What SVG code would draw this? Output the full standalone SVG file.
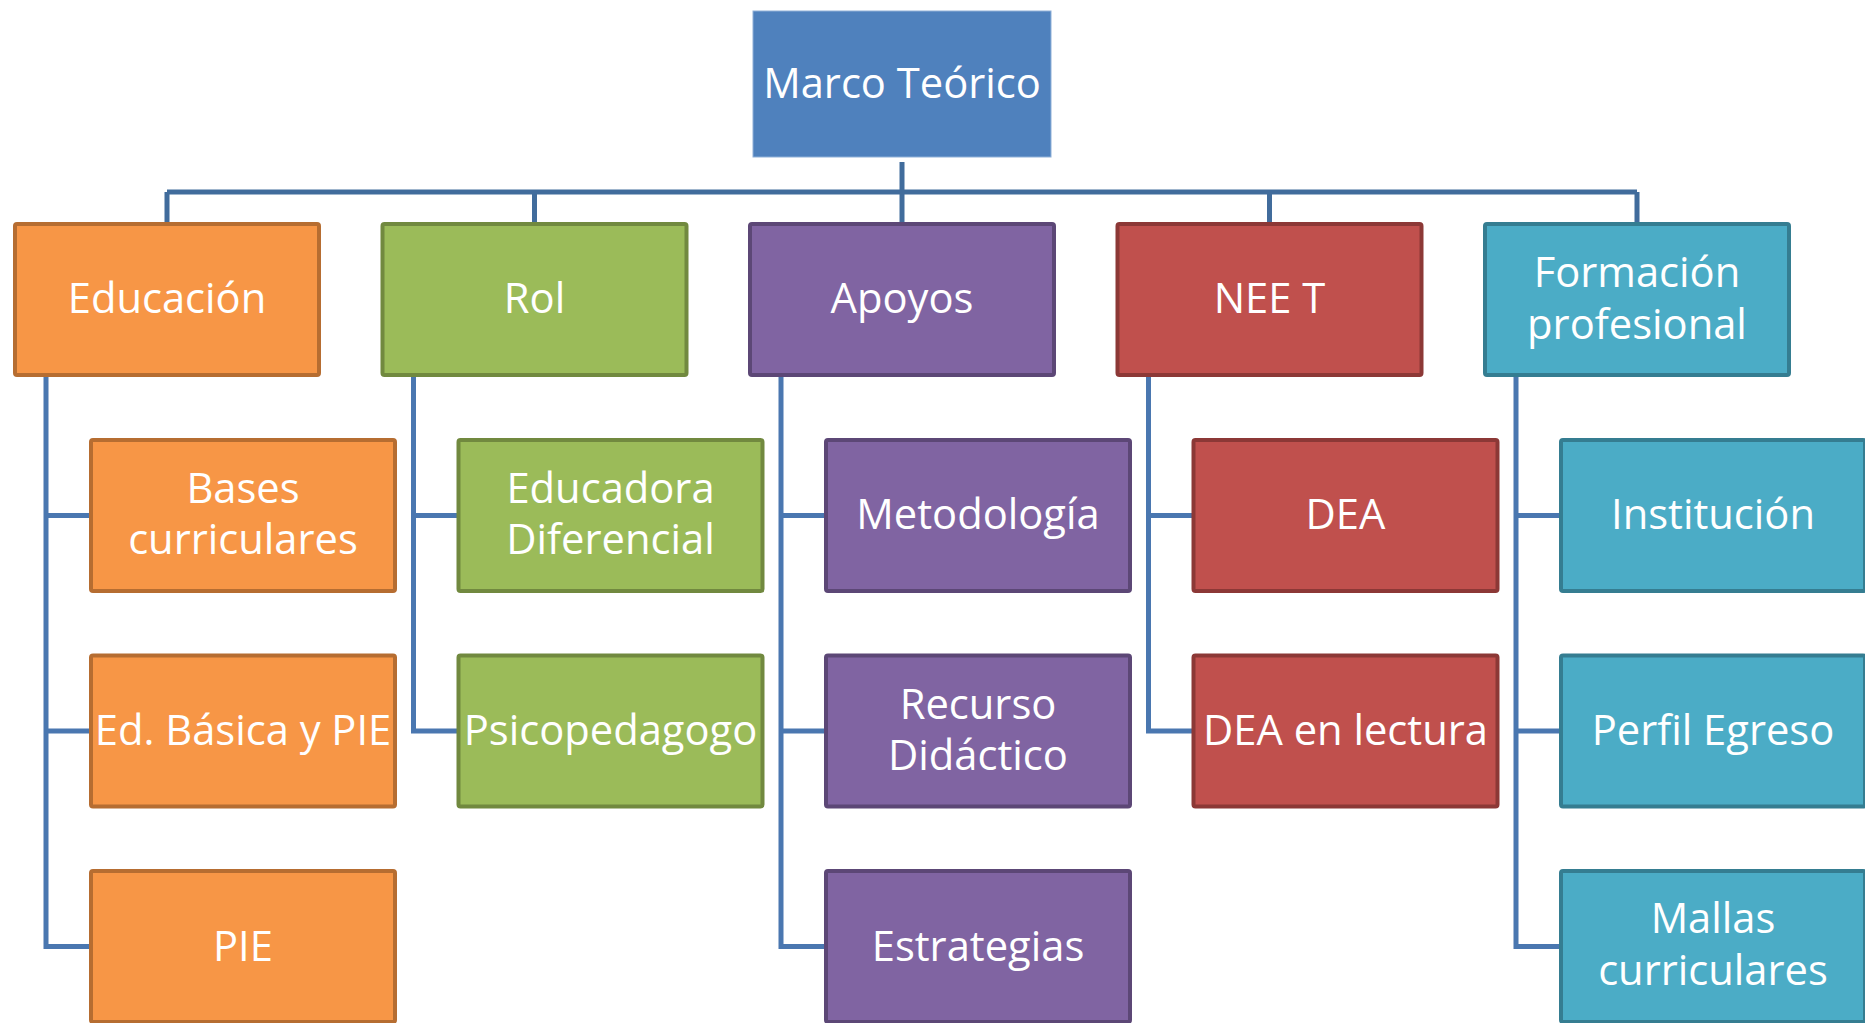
<svg xmlns="http://www.w3.org/2000/svg" width="1865" height="1023" viewBox="0 0 1865 1023">
<style>
.box{stroke-width:4}
.t{font-family:"Open Sans","Noto Sans",sans-serif;font-size:41.7px;fill:#ffffff;text-anchor:middle}
.or{fill:#f79646;stroke:#b66d31}
.gr{fill:#9bbb59;stroke:#71893f}
.pu{fill:#8064a2;stroke:#5c4776}
.re{fill:#c0504d;stroke:#8c3836}
.te{fill:#4bacc6;stroke:#357d91}
.c{fill:none;stroke:#4a77b0;stroke-width:5}
.ct{fill:none;stroke:#416c9c;stroke-width:5}
</style>
<rect width="1865" height="1023" fill="#ffffff"/>
<g id="connectors">
<path class="ct" d="M902 162V192M167 192H1637M167 192V222M534.5 192V222M902 192V222M1269.5 192V222M1637 192V222"/>
<path class="c" d="M46 377V946.5H91M46 515.5H91M46 731H91"/>
<path class="c" d="M413.5 377V731H458.5M413.5 515.5H458.5"/>
<path class="c" d="M781 377V946.5H826M781 515.5H826M781 731H826"/>
<path class="c" d="M1148.5 377V731H1193.5M1148.5 515.5H1193.5"/>
<path class="c" d="M1516 377V946.5H1561M1516 515.5H1561M1516 731H1561"/>
</g>
<g id="root"><rect x="753" y="11" width="298" height="146" fill="#4f81bd" stroke="#8fb0d8" stroke-width="1"/><text class="t" x="902" y="98">Marco Teórico</text></g>
<g id="educacion"><rect class="box or" x="15" y="224" width="304" height="151" rx="2"/><text class="t" x="167" y="313">Educación</text></g>
<g id="rol"><rect class="box gr" x="382.5" y="224" width="304" height="151" rx="2"/><text class="t" x="534.5" y="313">Rol</text></g>
<g id="apoyos"><rect class="box pu" x="750" y="224" width="304" height="151" rx="2"/><text class="t" x="902" y="313">Apoyos</text></g>
<g id="neet"><rect class="box re" x="1117.5" y="224" width="304" height="151" rx="2"/><text class="t" x="1269.5" y="313">NEE T</text></g>
<g id="formacion"><rect class="box te" x="1485" y="224" width="304" height="151" rx="2"/><text class="t" x="1637" y="287">Formación</text><text class="t" x="1637" y="339">profesional</text></g>
<g id="bases"><rect class="box or" x="91" y="440" width="304" height="151" rx="2"/><text class="t" x="243" y="503">Bases</text><text class="t" x="243" y="554">curriculares</text></g>
<g id="edbasica"><rect class="box or" x="91" y="655.5" width="304" height="151" rx="2"/><text class="t" x="243" y="745">Ed. Básica y PIE</text></g>
<g id="pie"><rect class="box or" x="91" y="871" width="304" height="151" rx="2"/><text class="t" x="243" y="961">PIE</text></g>
<g id="educadora"><rect class="box gr" x="458.5" y="440" width="304" height="151" rx="2"/><text class="t" x="610.5" y="503">Educadora</text><text class="t" x="610.5" y="554">Diferencial</text></g>
<g id="psicopedagogo"><rect class="box gr" x="458.5" y="655.5" width="304" height="151" rx="2"/><text class="t" x="610.5" y="745">Psicopedagogo</text></g>
<g id="metodologia"><rect class="box pu" x="826" y="440" width="304" height="151" rx="2"/><text class="t" x="978" y="529">Metodología</text></g>
<g id="recurso"><rect class="box pu" x="826" y="655.5" width="304" height="151" rx="2"/><text class="t" x="978" y="719">Recurso</text><text class="t" x="978" y="770">Didáctico</text></g>
<g id="estrategias"><rect class="box pu" x="826" y="871" width="304" height="151" rx="2"/><text class="t" x="978" y="961">Estrategias</text></g>
<g id="dea"><rect class="box re" x="1193.5" y="440" width="304" height="151" rx="2"/><text class="t" x="1345.5" y="529">DEA</text></g>
<g id="dealectura"><rect class="box re" x="1193.5" y="655.5" width="304" height="151" rx="2"/><text class="t" x="1345.5" y="745">DEA en lectura</text></g>
<g id="institucion"><rect class="box te" x="1561" y="440" width="304" height="151" rx="2"/><text class="t" x="1713" y="529">Institución</text></g>
<g id="perfil"><rect class="box te" x="1561" y="655.5" width="304" height="151" rx="2"/><text class="t" x="1713" y="745">Perfil Egreso</text></g>
<g id="mallas"><rect class="box te" x="1561" y="871" width="304" height="151" rx="2"/><text class="t" x="1713" y="933">Mallas</text><text class="t" x="1713" y="985">curriculares</text></g>
</svg>
